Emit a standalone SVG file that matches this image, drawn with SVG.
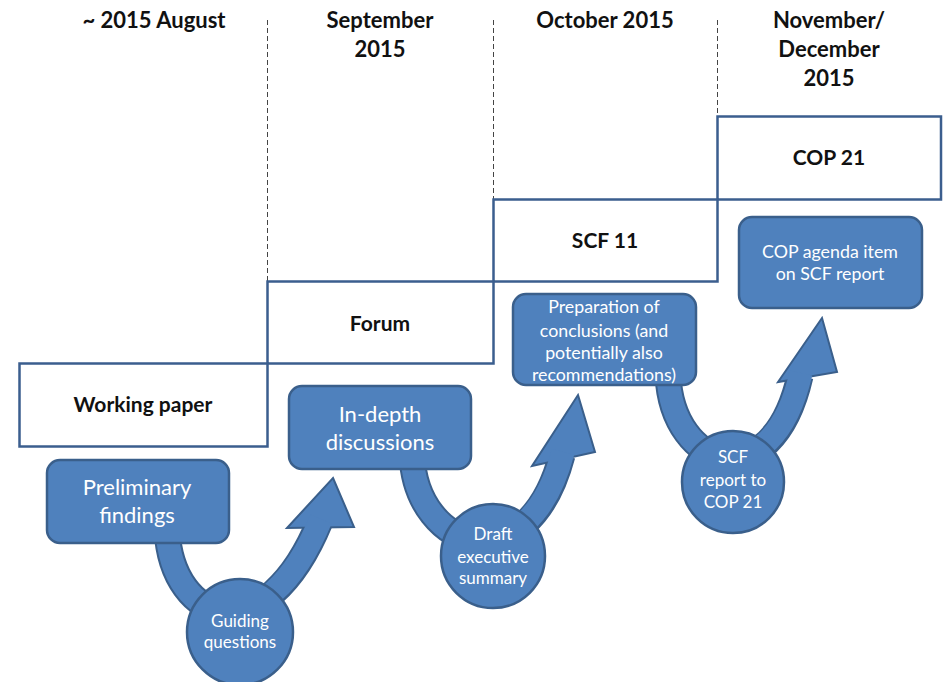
<svg xmlns="http://www.w3.org/2000/svg" width="943" height="682" viewBox="0 0 943 682">
<style>
.hdr{font-family:Lato,"Liberation Sans",sans-serif;font-weight:bold;font-size:22px;fill:#111;text-anchor:middle}
.lbl{font-family:Lato,"Liberation Sans",sans-serif;font-weight:bold;font-size:21px;fill:#111;text-anchor:middle}
.step{fill:#fff;stroke:#3B5E8E;stroke-width:2.5}
.grid{stroke:#444;stroke-width:1;stroke-dasharray:5,3;fill:none}
.box{fill:#4F81BD;stroke:#3A5F8B;stroke-width:2.5}
.wt{font-family:Lato,"Liberation Sans",sans-serif;fill:#fff;text-anchor:middle}
.big{font-size:22px}
.mid{font-size:17.8px}
.sml{font-size:17px}
.shaftO{fill:none;stroke:#3A5F8B;stroke-width:27}
.shaft{fill:none;stroke:#4F81BD;stroke-width:23}
.head{fill:#4F81BD;stroke:#3A5F8B;stroke-width:2;stroke-linejoin:miter}
</style>

<g id="headers">
<text class="hdr" x="154" y="28">~ 2015 August</text>
<text class="hdr" x="380" y="28">September</text>
<text class="hdr" x="380" y="57">2015</text>
<text class="hdr" x="605" y="28">October 2015</text>
<text class="hdr" x="829" y="28">November/</text>
<text class="hdr" x="829" y="57">December</text>
<text class="hdr" x="829" y="86">2015</text>
</g>

<g id="gridlines">
<line class="grid" x1="267.5" y1="20" x2="267.5" y2="282"/>
<line class="grid" x1="493.5" y1="20" x2="493.5" y2="199"/>
<line class="grid" x1="717.5" y1="20" x2="717.5" y2="116"/>
</g>

<g id="step-cop21">
<rect class="step" x="717.5" y="116.5" width="223.5" height="83"/>
<text class="lbl" x="829" y="165">COP 21</text>
</g>
<g id="step-scf11">
<rect class="step" x="493.5" y="199.5" width="224" height="82"/>
<text class="lbl" x="605" y="248">SCF 11</text>
</g>
<g id="step-forum">
<rect class="step" x="267.5" y="281.5" width="226" height="82"/>
<text class="lbl" x="380" y="331">Forum</text>
</g>
<g id="step-working-paper">
<rect class="step" x="19.5" y="363.5" width="248" height="83"/>
<text class="lbl" x="143" y="412">Working paper</text>
</g>

<g id="connectors">
<g id="arrow1">
<path class="shaftO" d="M167 530 C172 625 265 655 320 521"/>
<polygon class="head" points="333,478 354,527 287,528"/>
<path class="shaft" d="M167 530 C172 625 265 655 321 519"/>
</g>
<g id="arrow2">
<path class="shaftO" d="M412 455 C416 552 528 585 562 455"/>
<polygon class="head" points="578,395 595,452 532,466"/>
<path class="shaft" d="M412 455 C416 552 528 585 563 452"/>
</g>
<g id="arrow3">
<path class="shaftO" d="M668 375 C672 470 772 500 800 376"/>
<polygon class="head" points="822,318 837,372 778,382"/>
<path class="shaft" d="M668 375 C672 470 772 500 801 373"/>
</g>
</g>

<g id="preliminary-findings">
<rect class="box" x="47" y="460" width="182" height="83" rx="13"/>
<text class="wt big" x="137" y="495">Preliminary</text>
<text class="wt big" x="137" y="523">findings</text>
</g>
<g id="guiding-questions">
<circle class="box" cx="240" cy="632" r="53"/>
<text class="wt sml" x="240" y="627">Guiding</text>
<text class="wt sml" x="240" y="648">questions</text>
</g>
<g id="in-depth-discussions">
<rect class="box" x="289" y="386" width="182" height="83" rx="13"/>
<text class="wt big" x="380" y="422">In-depth</text>
<text class="wt big" x="380" y="450">discussions</text>
</g>
<g id="draft-executive-summary">
<circle class="box" cx="493" cy="556" r="52"/>
<text class="wt sml" x="493" y="540">Draft</text>
<text class="wt sml" x="493" y="563">executive</text>
<text class="wt sml" x="493" y="584">summary</text>
</g>
<g id="preparation-of-conclusions">
<rect class="box" x="513" y="294" width="183" height="91" rx="13"/>
<text class="wt mid" x="604" y="313">Preparation of</text>
<text class="wt mid" x="604" y="337">conclusions (and</text>
<text class="wt mid" x="604" y="359">potentially  also</text>
<text class="wt mid" x="604" y="381">recommendations)</text>
</g>
<g id="scf-report-to-cop21">
<circle class="box" cx="733" cy="482" r="51"/>
<text class="wt sml" x="733" y="463">SCF</text>
<text class="wt sml" x="733" y="486">report to</text>
<text class="wt sml" x="733" y="508">COP 21</text>
</g>
<g id="cop-agenda-item">
<rect class="box" x="739" y="217" width="183" height="91" rx="13"/>
<text class="wt mid" x="830" y="258">COP agenda item</text>
<text class="wt mid" x="830" y="280">on SCF report</text>
</g>
</svg>
